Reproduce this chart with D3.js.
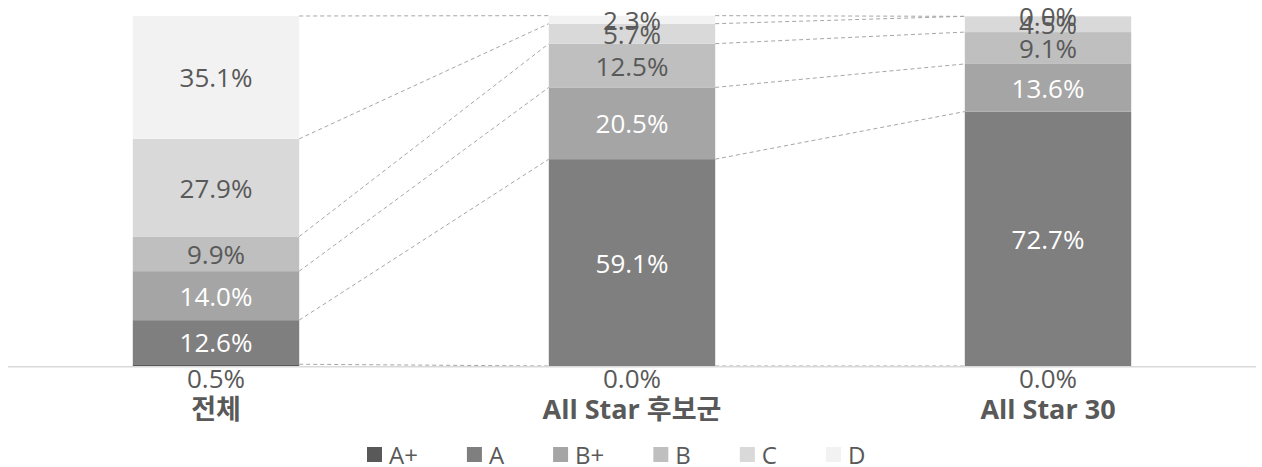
<!DOCTYPE html>
<html>
<head>
<meta charset="utf-8">
<script src="https://cdn.jsdelivr.net/npm/d3@7"></script>
<style>
  body { margin: 0; background: #fff; }
  svg { display: block; font-family: "Open Sans", "Noto Sans CJK KR", sans-serif; }
</style>
</head>
<body>
<svg id="chart" width="1262" height="467"></svg>
<script>
const categories = ["전체", "All Star 후보군", "All Star 30"];
const seriesNames = ["A+", "A", "B+", "B", "C", "D"];
const seriesColors = ["#595959", "#7f7f7f", "#a5a5a5", "#bfbfbf", "#d9d9d9", "#f2f2f2"];
const labelColors = ["#595959", "#ffffff", "#ffffff", "#595959", "#595959", "#595959"];

// percent per series, in category order
const valuesAPlus = [0.5, 0.0, 0.0];
const valuesA = [12.6, 59.1, 72.7];
const valuesBPlus = [14.0, 20.5, 13.6];
const valuesB = [9.9, 12.5, 9.1];
const valuesC = [27.9, 5.7, 4.5];
const valuesD = [35.1, 2.3, 0.0];

const seriesValues = [valuesAPlus, valuesA, valuesBPlus, valuesB, valuesC, valuesD];

const table = categories.map((c, i) => {
  const row = { category: c };
  seriesNames.forEach((s, j) => { row[s] = seriesValues[j][i]; });
  return row;
});

const stacked = d3.stack().keys(seriesNames)(table);

const svg = d3.select("#chart");

const x = d3.scaleBand()
  .domain(categories)
  .range([8, 1256])
  .paddingInner(0.6)
  .paddingOuter(0.3);

const y = d3.scaleLinear()
  .domain([0, 100])
  .range([366, 16]);

// bars
const layers = svg.append("g")
  .selectAll("g")
  .data(stacked)
  .join("g")
  .attr("fill", (d, i) => seriesColors[i]);

layers.selectAll("rect")
  .data(d => d)
  .join("rect")
  .attr("x", d => x(d.data.category))
  .attr("width", x.bandwidth())
  .attr("y", d => y(d[1]))
  .attr("height", d => y(d[0]) - y(d[1]));

// series lines between bars (dashed)
const seriesLines = svg.append("g")
  .attr("stroke", "#a6a6a6")
  .attr("stroke-width", 1)
  .attr("stroke-dasharray", "4,3")
  .attr("fill", "none");

stacked.forEach(layer => {
  for (let i = 0; i < categories.length - 1; i++) {
    seriesLines.append("line")
      .attr("x1", x(categories[i]) + x.bandwidth())
      .attr("y1", y(layer[i][1]))
      .attr("x2", x(categories[i + 1]))
      .attr("y2", y(layer[i + 1][1]));
  }
});

// category axis line
svg.append("line")
  .attr("x1", x.range()[0])
  .attr("x2", x.range()[1])
  .attr("y1", 366.8)
  .attr("y2", 366.8)
  .attr("stroke", "#d9d9d9")
  .attr("stroke-width", 1.6);

// data labels
stacked.forEach((layer, j) => {
  svg.append("g")
    .selectAll("text")
    .data(layer)
    .join("text")
    .attr("x", d => x(d.data.category) + x.bandwidth() / 2)
    .attr("y", d => j === 0 ? y(0) + 12 : y((d[0] + d[1]) / 2))
    .attr("text-anchor", "middle")
    .attr("dominant-baseline", "central")
    .attr("font-size", 26)
    .attr("fill", labelColors[j])
    .text(d => d3.format(".1f")(d[1] - d[0]) + "%");
});

// category labels
svg.append("g")
  .selectAll("text")
  .data(categories)
  .join("text")
  .attr("x", d => x(d) + x.bandwidth() / 2)
  .attr("y", 408)
  .attr("text-anchor", "middle")
  .attr("dominant-baseline", "central")
  .attr("font-size", 27)
  .attr("font-weight", "bold")
  .attr("fill", "#595959")
  .text(d => d);

// legend
const legend = svg.append("g");
let lx = 367;
seriesNames.forEach((s, i) => {
  legend.append("rect")
    .attr("x", lx)
    .attr("y", 447)
    .attr("width", 15)
    .attr("height", 15)
    .attr("fill", seriesColors[i]);
  const t = legend.append("text")
    .attr("x", lx + 22)
    .attr("y", 454)
    .attr("dominant-baseline", "central")
    .attr("font-size", 24)
    .attr("fill", "#595959")
    .text(s);
  lx += 22 + t.node().getComputedTextLength() + 49;
});
</script>
</body>
</html>
